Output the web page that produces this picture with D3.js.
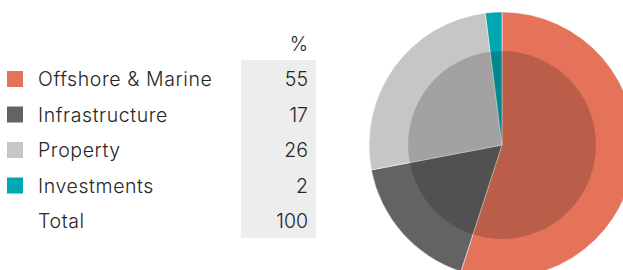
<!DOCTYPE html>
<html lang="en">
<head>
  <meta charset="UTF-8">
  <script src="https://d3js.org/d3.v7.min.js"></script>
  <style>
    body { margin: 0; background: #fff; font-family: Inter, Roboto, sans-serif; }
    text { font-weight: 300; fill: #262626; }
  </style>
</head>
<body>
<div id="chart"></div>
<script>
  // data
  const categories = ["Offshore & Marine", "Infrastructure", "Property", "Investments"];
  const values = [55, 17, 26, 2];
  const colors = ["#e5735a", "#636363", "#c6c6c6", "#00a6b0"];
  const totalLabel = "Total";
  const unitLabel = "%";

  const width = 623, height = 270;
  const svg = d3.select("#chart").append("svg")
    .attr("width", width)
    .attr("height", height);

  // legend / table
  const rowY = d3.scalePoint()
    .domain(d3.range(categories.length + 1))
    .range([79, 221]);

  svg.append("rect")
    .attr("x", 241).attr("y", 60)
    .attr("width", 75).attr("height", 178)
    .attr("fill", "#ededed");

  svg.append("text")
    .attr("x", 308).attr("y", 51)
    .attr("text-anchor", "end")
    .style("font-size", "19.5px")
    .text(unitLabel);

  const rows = svg.selectAll("g.row")
    .data(categories.map((c, i) => ({ name: c, value: values[i], color: colors[i] }))
      .concat([{ name: totalLabel, value: d3.sum(values), color: null }]))
    .join("g")
    .attr("class", "row")
    .attr("transform", (d, i) => `translate(0,${rowY(i)})`);

  rows.filter(d => d.color)
    .append("rect")
    .attr("x", 7).attr("y", -8)
    .attr("width", 16).attr("height", 16)
    .attr("fill", d => d.color);

  rows.append("text")
    .attr("x", 38).attr("y", 7)
    .style("font-size", "19.5px")
    .style("letter-spacing", "0.6px")
    .text(d => d.name);

  rows.append("text")
    .attr("x", 308).attr("y", 7)
    .attr("text-anchor", "end")
    .style("font-size", "19.5px")
    .text(d => d.value);

  // pie
  const cx = 502, cy = 145, rOuter = 133, rInner = 94;
  const pie = d3.pie().sort(null).value(d => d);
  const arcs = pie(values);
  const g = svg.append("g").attr("transform", `translate(${cx},${cy})`);

  g.selectAll("path.outer")
    .data(arcs)
    .join("path")
    .attr("class", "outer")
    .attr("d", d3.arc().innerRadius(0).outerRadius(rOuter))
    .attr("fill", (d, i) => colors[i])
    .attr("stroke", "#fff")
    .attr("stroke-width", 0.5);

  g.append("circle")
    .attr("r", rInner)
    .attr("fill", "#000")
    .attr("fill-opacity", 0.18);
</script>
</body>
</html>
